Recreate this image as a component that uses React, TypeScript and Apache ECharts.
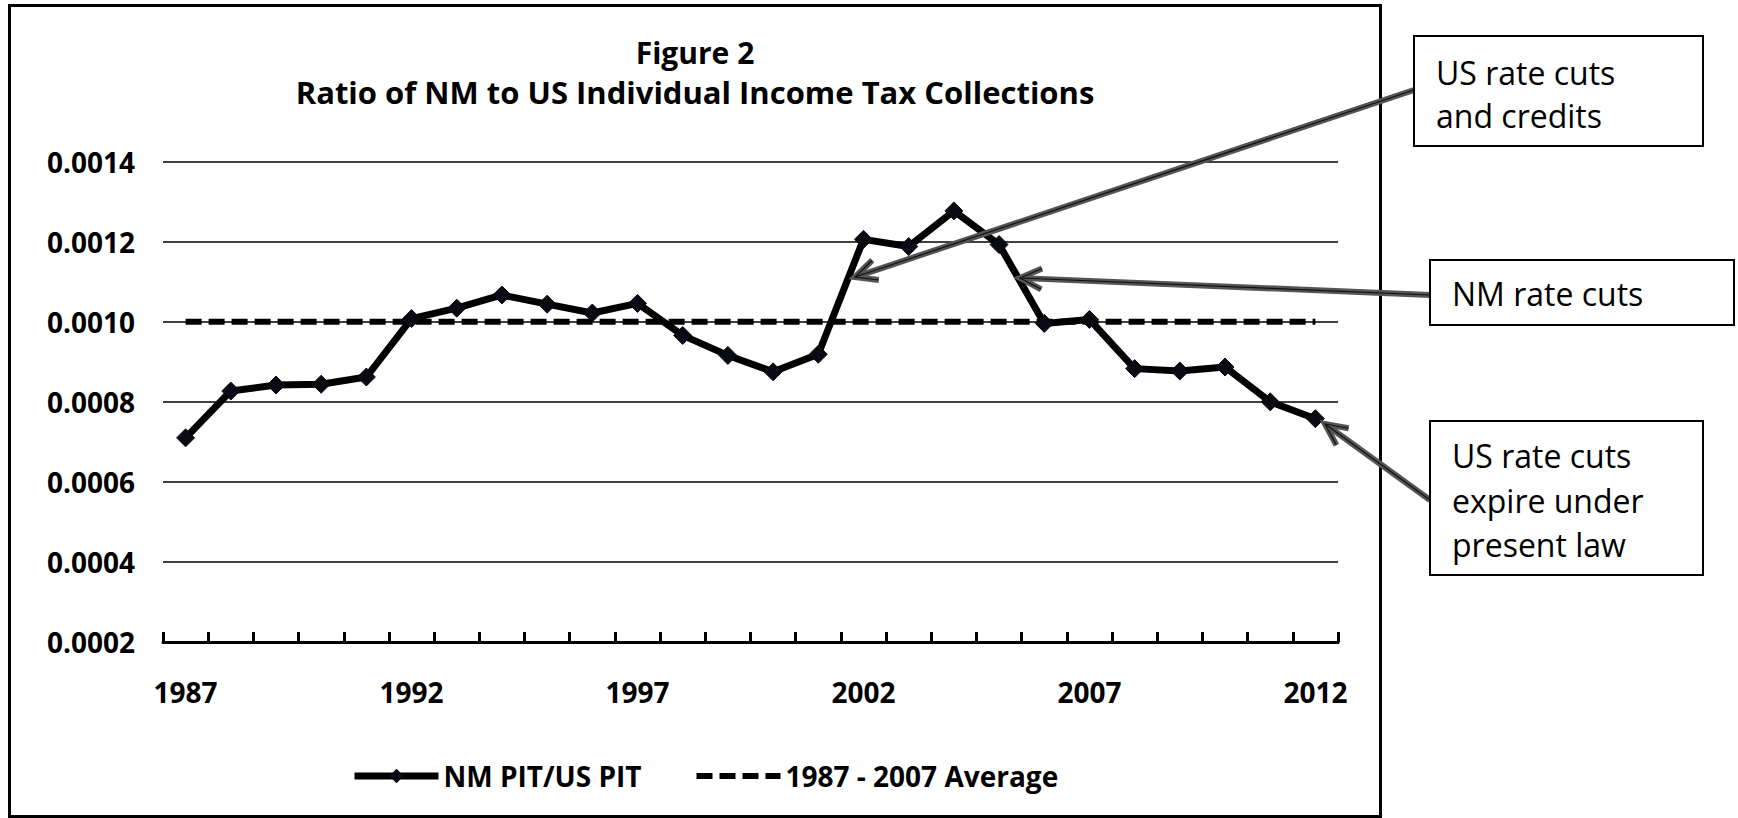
import React, { useEffect, useRef } from 'react';
import * as echarts from 'echarts';

const years = ['1987','1988','1989','1990','1991','1992','1993','1994','1995','1996','1997','1998','1999','2000','2001','2002','2003','2004','2005','2006','2007','2008','2009','2010','2011','2012'];
const ratio = [0.00071,0.000827,0.000842,0.000844,0.000862,0.001008,0.001034,0.001067,0.001044,0.001022,0.001046,0.000966,0.000916,0.000875,0.000919,0.001206,0.001188,0.001277,0.001193,0.000996,0.001006,0.000883,0.000877,0.000887,0.0008,0.000758];
const average = [0.001,0.001,0.001,0.001,0.001,0.001,0.001,0.001,0.001,0.001,0.001,0.001,0.001,0.001,0.001,0.001,0.001,0.001,0.001,0.001,0.001,0.001,0.001,0.001,0.001,0.001];
const seriesNames = ['NM PIT/US PIT', '1987 - 2007 Average'];
const titleLines = ['Figure 2', 'Ratio of NM to US Individual Income Tax Collections'];
const notes = [
  ['US rate cuts', 'and credits'],
  ['NM rate cuts'],
  ['US rate cuts', 'expire under', 'present law'],
];

const FONT = '"Open Sans", "Noto Sans", sans-serif';

function arrowEls(fx: number, fy: number, tx: number, ty: number) {
  const dx = tx - fx, dy = ty - fy;
  const len = Math.hypot(dx, dy);
  const ux = dx / len, uy = dy / len;
  const wing = 24, ang = Math.PI / 7;
  const c = Math.cos(ang), s = Math.sin(ang);
  const w1 = [tx - wing * (ux * c - uy * s), ty - wing * (uy * c + ux * s)];
  const w2 = [tx - wing * (ux * c + uy * s), ty - wing * (uy * c - ux * s)];
  const pts = [w1, [tx, ty], w2];
  return [
    { type: 'line', shape: { x1: fx, y1: fy, x2: tx - ux * 3, y2: ty - uy * 3 }, style: { stroke: '#555', lineWidth: 6 }, z: 50 },
    { type: 'polyline', shape: { points: pts }, style: { stroke: '#555', lineWidth: 6, fill: null, lineJoin: 'miter' }, z: 50 },
    { type: 'line', shape: { x1: fx, y1: fy, x2: tx, y2: ty }, style: { stroke: '#111', lineWidth: 1.2 }, z: 51 },
    { type: 'polyline', shape: { points: pts }, style: { stroke: '#111', lineWidth: 1.2, fill: null }, z: 51 },
  ];
}

function boxEls(x: number, y: number, w: number, h: number, lines: string[], tx: number, ty: number[]) {
  const els: any[] = [
    { type: 'rect', shape: { x, y, width: w, height: h }, style: { fill: '#fff', stroke: '#000', lineWidth: 2 }, z: 60 },
  ];
  lines.forEach((t, i) => {
    els.push({
      type: 'text', x: tx, y: ty[i], z: 61,
      style: { text: t, fontFamily: FONT, fontSize: 32, fill: '#000', align: 'left', verticalAlign: 'middle' },
    });
  });
  return els;
}

export default function App() {
  const ref = useRef<HTMLDivElement>(null);
  useEffect(() => {
    document.body.style.margin = '0';
    if (!ref.current) return;
    const chart = echarts.init(ref.current, null, { renderer: 'svg' });
    const graphics: any[] = [
      { type: 'rect', shape: { x: 9.5, y: 5.5, width: 1371, height: 811 }, style: { fill: 'none', stroke: '#000', lineWidth: 3 }, z: 40 },
      { type: 'text', x: 695, y: 52, z: 40, style: { text: titleLines[0], fontFamily: FONT, fontWeight: 'bold', fontSize: 30, fill: '#000', align: 'center', verticalAlign: 'middle' } },
      { type: 'text', x: 695, y: 92, z: 40, style: { text: titleLines[1], fontFamily: FONT, fontWeight: 'bold', fontSize: 31, fill: '#000', align: 'center', verticalAlign: 'middle' } },
      ...arrowEls(1414, 90, 855, 277),
      ...arrowEls(1430, 295, 1020, 278),
      ...arrowEls(1430, 500, 1325, 424),
      ...boxEls(1414, 36, 289, 110, notes[0], 1436, [72, 115]),
      ...boxEls(1430, 260, 304, 65, notes[1], 1452, [293]),
      ...boxEls(1430, 421, 273, 154, notes[2], 1452, [455, 500, 544]),
    ];
    chart.setOption({
      animation: false,
      backgroundColor: '#fff',
      grid: { left: 163, right: 400, top: 161.7, bottom: 176, containLabel: false },
      legend: {
        left: 346, top: 757, itemWidth: 84, itemHeight: 18, itemGap: 52,
        textStyle: { fontFamily: FONT, fontWeight: 'bold', fontSize: 28, color: '#000' },
        data: [
          { name: seriesNames[0], lineStyle: { width: 7, color: '#000' }, itemStyle: { color: '#0a0a14' } },
          { name: seriesNames[1], lineStyle: { width: 6, color: '#000', type: [16, 7] }, itemStyle: { opacity: 0 } },
        ],
      },
      xAxis: {
        type: 'category', data: years, boundaryGap: true,
        axisLine: { lineStyle: { color: '#000', width: 3 } },
        axisTick: { show: true, inside: true, length: 10, interval: 0, lineStyle: { color: '#000', width: 3 } },
        axisLabel: { interval: 4, fontFamily: FONT, fontWeight: 'bold', fontSize: 28, color: '#000', margin: 36 },
        splitLine: { show: false },
      },
      yAxis: {
        type: 'value', min: 0.0002, max: 0.0014, interval: 0.0002,
        axisLine: { show: false }, axisTick: { show: false },
        axisLabel: { fontFamily: FONT, fontWeight: 'bold', fontSize: 28, color: '#000', margin: 28, formatter: (v: number) => v.toFixed(4) },
        splitLine: { lineStyle: { color: '#000', width: 1.5 } },
      },
      series: [
        {
          name: seriesNames[1], type: 'line', data: average, symbol: 'none', z: 2,
          lineStyle: { color: '#000', width: 6, type: [16, 7] },
          itemStyle: { color: '#000' },
        },
        {
          name: seriesNames[0], type: 'line', data: ratio, symbol: 'diamond', symbolSize: 18, z: 3,
          lineStyle: { color: '#000', width: 7 },
          itemStyle: { color: '#0a0a14', borderColor: '#0a0a14' },
        },
      ],
      graphic: graphics,
    });
    return () => chart.dispose();
  }, []);
  return <div ref={ref} style={{ width: 1738, height: 818 }} />;
}
